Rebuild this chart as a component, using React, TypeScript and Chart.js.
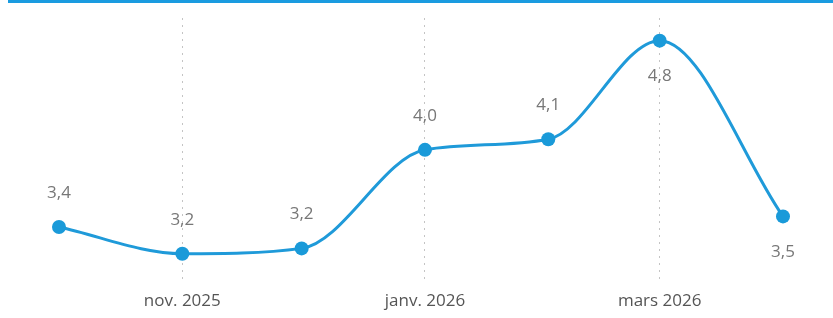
import React, { useEffect, useRef } from "react";
import { Chart, registerables } from "chart.js";

Chart.register(...registerables);

// Days since 1 Oct 2025 (continuous date axis)
const dayOffsets = [0, 31, 61, 92, 123, 151, 182];
const values = [3.4, 3.2, 3.24, 3.98, 4.06, 4.8, 3.48];
const tickDays = [31, 92, 151];
const tickLabels = ["nov. 2025", "janv. 2026", "mars 2026"];
const labelBelow = [false, false, false, false, false, true, true];

const fmt = (v: number) => v.toFixed(1).replace(".", ",");

export default function App() {
  const ref = useRef<HTMLCanvasElement | null>(null);

  useEffect(() => {
    document.body.style.margin = "0";
    const canvas = ref.current!;
    const topBar = {
      id: "topBar",
      beforeDraw(chart: any) {
        const ctx = chart.ctx;
        ctx.save();
        ctx.fillStyle = "#1a9be0";
        ctx.fillRect(8, 0, chart.width - 8, 3);
        ctx.restore();
      },
    };
    const dataLabels = {
      id: "dataLabels",
      afterDatasetsDraw(chart: any) {
        const ctx = chart.ctx;
        const meta = chart.getDatasetMeta(0);
        ctx.save();
        ctx.font = "17px 'Open Sans', sans-serif";
        ctx.fillStyle = "#777777";
        ctx.textAlign = "center";
        ctx.textBaseline = "middle";
        meta.data.forEach((pt: any, i: number) => {
          const dy = labelBelow[i] ? 36 : -34;
          ctx.fillText(fmt(values[i]), pt.x, pt.y + dy);
        });
        ctx.restore();
      },
    };
    const chart = new Chart(canvas, {
      type: "line",
      data: {
        datasets: [
          {
            data: dayOffsets.map((d, i) => ({ x: d, y: values[i] })),
            borderColor: "#1f9ad9",
            backgroundColor: "#1a9ad9",
            borderWidth: 3,
            pointRadius: 7,
            pointHoverRadius: 7,
            pointBorderWidth: 0,
            cubicInterpolationMode: "monotone",
            fill: false,
          },
        ],
      },
      options: {
        animation: false,
        responsive: false,
        maintainAspectRatio: false,
        layout: { autoPadding: false, padding: { top: 18, left: 0, right: 0, bottom: 0 } },
        plugins: { legend: { display: false }, tooltip: { enabled: false } },
        scales: {
          x: {
            type: "linear",
            min: -14.83,
            max: 194.57,
            afterBuildTicks: (axis: any) => {
              axis.ticks = tickDays.map((v) => ({ value: v }));
            },
            afterFit: (axis: any) => {
              axis.height = 35;
            },
            ticks: {
              autoSkip: false,
              maxRotation: 0,
              padding: 8,
              color: "#555555",
              font: { family: "'Open Sans', sans-serif", size: 17 },
              callback: (v: any) => {
                const i = tickDays.indexOf(Number(v));
                return i >= 0 ? tickLabels[i] : "";
              },
            },
            grid: {
              color: "#c4c4c4",
              lineWidth: 1,
              drawTicks: false,
            },
            border: { display: false, dash: [2, 5] },
          },
          y: {
            display: false,
            min: 2.98,
            max: 4.97,
          },
        },
      },
      plugins: [topBar, dataLabels],
    });
    return () => chart.destroy();
  }, []);

  return (
    <div style={{ position: "absolute", left: 0, top: 0, width: 833, height: 318, background: "#ffffff" }}>
      <canvas ref={ref} width={833} height={318} style={{ width: 833, height: 318, display: "block" }} />
    </div>
  );
}
